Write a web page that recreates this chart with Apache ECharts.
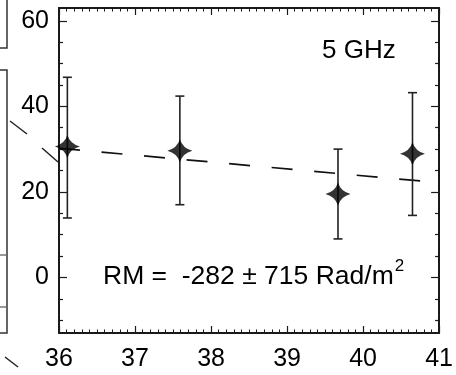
<!DOCTYPE html>
<html>
<head>
<meta charset="utf-8">
<script src="https://cdn.jsdelivr.net/npm/echarts@6/dist/echarts.min.js"></script>
<style>html,body{margin:0;padding:0;background:#fff;}#c{width:456px;height:375px;}</style>
</head>
<body>
<div id="c"></div>
<script>
// ---- data ----
const xMin = 36, xMax = 41;
const yMin = -13, yMax = 63;
const yMajorTicks = [0, 20, 40, 60];
const yMinorTicks = [-10, -5, 5, 10, 15, 25, 30, 35, 45, 50, 55];
const pointX = [36.11, 37.59, 39.67, 40.65];
const pointY = [30.6, 29.6, 19.5, 28.9];
const errLow = [13.9, 17.0, 9.0, 14.5];
const errHigh = [46.8, 42.4, 30.0, 43.2];
const fitX = [36, 41];
const fitY = [30.2, 22.15];
const bandLabel = '5 GHz';
const rmText = 'RM =  -282 \u00b1 715 Rad/m';

const FONT = 'Liberation Sans';
const INK = '#1a1a1a';

const chart = echarts.init(document.getElementById('c'), null, {renderer: 'canvas'});

function yAxisDef(pos, ticks, len, showLine, labels) {
  return {
    type: 'value', position: pos, min: yMin, max: yMax, offset: 0,
    axisLine: {show: showLine, onZero: false, lineStyle: {color: INK, width: 2}},
    axisTick: {show: true, inside: true, length: len, customValues: ticks, lineStyle: {color: INK, width: 1.2}},
    axisLabel: labels ? {show: true, customValues: ticks, margin: 10, fontFamily: FONT, fontSize: 25, color: '#000'} : {show: false},
    splitLine: {show: false}
  };
}
function xAxisDef(pos, labels) {
  return {
    type: 'value', position: pos, min: xMin, max: xMax, interval: 1,
    axisLine: {show: true, onZero: false, lineStyle: {color: INK, width: 2}},
    axisTick: {show: true, inside: true, length: 7, lineStyle: {color: INK, width: 1.2}},
    minorTick: {show: true, splitNumber: 10, length: 3.5, lineStyle: {color: INK, width: 1}},
    axisLabel: labels ? {show: true, margin: 14, fontFamily: FONT, fontSize: 25, color: '#000'} : {show: false},
    splitLine: {show: false}, minorSplitLine: {show: false}
  };
}

const starPath = 'path://M0,-10 Q2.2,-2.2 10,0 Q2.2,2.2 0,10 Q-2.2,2.2 -10,0 Q-2.2,-2.2 0,-10 Z';

const errData = pointX.map((x, i) => [x, errLow[i], errHigh[i]]);
const ptData = pointX.map((x, i) => [x, pointY[i]]);
const fitData = fitX.map((x, i) => [x, fitY[i]]);

chart.setOption({
  animation: false,
  backgroundColor: '#fff',
  grid: {left: 59, right: 14, top: 8, bottom: 42},
  xAxis: [xAxisDef('bottom', true), xAxisDef('top', false)],
  yAxis: [
    yAxisDef('left', yMajorTicks, 8, true, true),
    yAxisDef('left', yMinorTicks, 4, false, false),
    yAxisDef('right', yMajorTicks, 8, true, false),
    yAxisDef('right', yMinorTicks, 4, false, false)
  ],
  series: [
    {
      type: 'line', xAxisIndex: 0, yAxisIndex: 0, data: fitData, showSymbol: false, symbol: 'none',
      lineStyle: {color: '#111', width: 1.7, type: [21, 21.7]}, z: 2
    },
    {
      type: 'custom', xAxisIndex: 0, yAxisIndex: 0, data: errData, z: 3,
      renderItem: function (params, api) {
        const x = api.value(0);
        const lo = api.coord([x, api.value(1)]);
        const hi = api.coord([x, api.value(2)]);
        const cw = 4.5;
        const st = {stroke: '#222', lineWidth: 1.6};
        return {type: 'group', children: [
          {type: 'line', shape: {x1: lo[0], y1: lo[1], x2: hi[0], y2: hi[1]}, style: st},
          {type: 'line', shape: {x1: lo[0] - cw, y1: lo[1], x2: lo[0] + cw, y2: lo[1]}, style: st},
          {type: 'line', shape: {x1: hi[0] - cw, y1: hi[1], x2: hi[0] + cw, y2: hi[1]}, style: st}
        ]};
      }
    },
    {
      type: 'scatter', xAxisIndex: 0, yAxisIndex: 0, data: ptData, symbol: starPath, symbolSize: [25, 23],
      itemStyle: {color: '#000'}, z: 4
    }
  ],
  graphic: [
    {type: 'text', left: 322, top: 38, style: {text: bandLabel, font: '26px "Liberation Sans"', fill: '#000'}},
    {type: 'text', left: 103, top: 258, style: {
      text: '{a|' + rmText + '}{s|2}',
      rich: {a: {fontFamily: FONT, fontSize: 26.5, color: '#000', verticalAlign: 'bottom', lineHeight: 32},
             s: {fontFamily: FONT, fontSize: 17, color: '#000', verticalAlign: 'top', lineHeight: 32, padding: [0, 0, 14, 1]}}
    }},
    // fragments of neighbouring panel at the left edge
    {type: 'polyline', shape: {points: [[7, 0], [7, 48], [0, 48]]}, style: {stroke: '#333', lineWidth: 1.5, fill: null}},
    {type: 'polyline', shape: {points: [[0, 70], [7, 70], [7, 333], [0, 333]]}, style: {stroke: '#333', lineWidth: 1.5, fill: null}},
    {type: 'line', shape: {x1: 0, y1: 255, x2: 6, y2: 255}, style: {stroke: '#333', lineWidth: 1}},
    {type: 'line', shape: {x1: 0, y1: 307, x2: 6, y2: 307}, style: {stroke: '#333', lineWidth: 1}},
    {type: 'line', shape: {x1: 10, y1: 121, x2: 27, y2: 134}, style: {stroke: '#222', lineWidth: 1.5}},
    {type: 'line', shape: {x1: 42, y1: 148, x2: 58, y2: 162}, style: {stroke: '#222', lineWidth: 1.5}},
    {type: 'line', shape: {x1: 5, y1: 357, x2: 18, y2: 367}, style: {stroke: '#222', lineWidth: 1.5}}
  ]
});
</script>
</body>
</html>
